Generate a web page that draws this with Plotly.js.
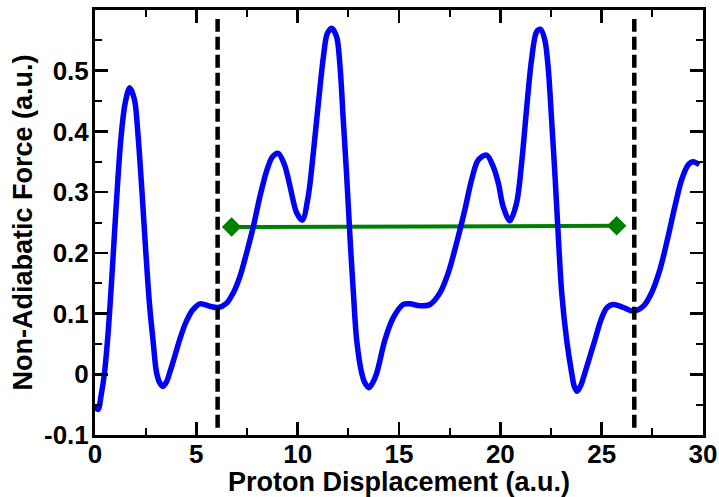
<!DOCTYPE html>
<html>
<head>
<meta charset="utf-8">
<script src="https://cdn.plot.ly/plotly-3.0.1.min.js"></script>
<style>
  html, body { margin: 0; padding: 0; background: #ffffff; }
  #chart { width: 719px; height: 497px; }
</style>
</head>
<body>
<div id="chart"></div>
<script>
// Blue curve: non-adiabatic force vs proton displacement
const forceX = [-0.05, 0.15, 0.30, 0.46, 0.64, 0.85, 1.05, 1.27, 1.48, 1.71, 1.95, 2.12, 2.32, 2.50, 2.69, 2.86, 3.03, 3.18, 3.35, 3.52, 3.69, 3.92, 4.18, 4.44, 4.80, 5.18, 5.67, 6.08, 6.49, 6.82, 7.15, 7.48, 7.81, 8.14, 8.47, 8.75, 9.04, 9.35, 9.62, 9.95, 10.23, 10.52, 10.77, 11.02, 11.27, 11.46, 11.68, 11.92, 12.09, 12.25, 12.42, 12.58, 12.75, 12.91, 13.16, 13.33, 13.52, 13.70, 13.90, 14.31, 14.70, 15.21, 15.54, 16.03, 16.53, 17.02, 17.43, 17.84, 18.25, 18.58, 18.91, 19.32, 19.65, 19.90, 20.14, 20.47, 20.80, 21.05, 21.29, 21.54, 21.79, 21.99, 22.20, 22.37, 22.53, 22.70, 22.86, 23.03, 23.27, 23.52, 23.65, 23.79, 23.96, 24.17, 24.67, 24.95, 25.24, 25.57, 26.07, 26.56, 27.05, 27.46, 27.87, 28.28, 28.61, 28.94, 29.27, 29.52, 29.82];
const forceY = [-0.053, -0.058, -0.035, 0.0, 0.065, 0.17, 0.28, 0.385, 0.445, 0.472, 0.452, 0.395, 0.30, 0.205, 0.115, 0.057, 0.004, -0.013, -0.020, -0.013, 0.003, 0.028, 0.057, 0.082, 0.105, 0.116, 0.112, 0.110, 0.117, 0.134, 0.161, 0.200, 0.243, 0.293, 0.335, 0.358, 0.364, 0.345, 0.31, 0.266, 0.254, 0.293, 0.364, 0.446, 0.523, 0.561, 0.570, 0.556, 0.507, 0.419, 0.326, 0.227, 0.134, 0.057, 0.002, -0.015, -0.022, -0.014, 0.002, 0.057, 0.092, 0.115, 0.116, 0.113, 0.115, 0.134, 0.167, 0.216, 0.271, 0.320, 0.353, 0.361, 0.342, 0.315, 0.276, 0.253, 0.282, 0.348, 0.435, 0.518, 0.564, 0.568, 0.550, 0.501, 0.419, 0.326, 0.227, 0.134, 0.057, 0.002, -0.020, -0.028, -0.019, 0.002, 0.057, 0.088, 0.109, 0.115, 0.110, 0.104, 0.112, 0.134, 0.172, 0.227, 0.276, 0.320, 0.345, 0.350, 0.345];

// Green average line (two end points)
const avgX = [6.74, 25.74];
const avgY = [0.2424, 0.2446];

// Dashed vertical boundaries
const boundary1X = [6.05, 6.05];
const boundary2X = [26.61, 26.61];
const boundaryY = [-0.088, 0.585];

// Axis ticks
const xTickVals = [0, 5, 10, 15, 20, 25, 30];
const xTickText = ["0", "5", "10", "15", "20", "25", "30"];
const yTickVals = [-0.1, 0, 0.1, 0.2, 0.3, 0.4, 0.5];
const yTickText = ["-0.1", "0", "0.1", "0.2", "0.3", "0.4", "0.5"];

const FONT = "Liberation Sans, Arial, Helvetica, sans-serif";

const traces = [
  {
    x: avgX, y: avgY, type: "scatter", mode: "lines+markers",
    line: { color: "#008000", width: 4 },
    marker: { symbol: "diamond", size: 15, color: "#008000" },
    hoverinfo: "skip", showlegend: false
  },
  {
    x: forceX, y: forceY, type: "scatter", mode: "lines",
    line: { color: "#0000ff", width: 5.5, shape: "spline", smoothing: 0.9 },
    hoverinfo: "skip", showlegend: false
  },
  {
    x: boundary1X, y: boundaryY, type: "scatter", mode: "lines",
    line: { color: "#000000", width: 4.5, dash: "13px,5px" },
    hoverinfo: "skip", showlegend: false
  },
  {
    x: boundary2X, y: boundaryY, type: "scatter", mode: "lines",
    line: { color: "#000000", width: 4.5, dash: "13px,5px" },
    hoverinfo: "skip", showlegend: false
  }
];

const layout = {
  width: 719, height: 497,
  margin: { l: 95, r: 16, t: 10, b: 62, pad: 0 },
  paper_bgcolor: "#ffffff", plot_bgcolor: "#ffffff",
  font: { family: FONT, color: "#000000" },
  showlegend: false,
  xaxis: {
    range: [0, 30],
    tickmode: "array", tickvals: xTickVals, ticktext: xTickText,
    ticks: "inside", ticklen: 13, tickwidth: 2.5, tickcolor: "#000000",
    minor: { tickmode: "linear", tick0: 0, dtick: 2.5, ticks: "inside", ticklen: 7, tickwidth: 2, tickcolor: "#000000" },
    showline: true, linecolor: "#000000", linewidth: 3, mirror: "allticks",
    showgrid: false, zeroline: false,
    ticklabelstandoff: -6,
    tickfont: { family: FONT, size: 26, color: "#000000", weight: "bold" },
    title: { text: "<b>Proton Displacement (a.u.)</b>", font: { family: FONT, size: 27, color: "#000000" }, standoff: 1 }
  },
  yaxis: {
    range: [-0.1, 0.6],
    tickmode: "array", tickvals: yTickVals, ticktext: yTickText,
    ticks: "inside", ticklen: 13, tickwidth: 2.5, tickcolor: "#000000",
    minor: { tickmode: "linear", tick0: -0.1, dtick: 0.05, ticks: "inside", ticklen: 7, tickwidth: 2, tickcolor: "#000000" },
    showline: true, linecolor: "#000000", linewidth: 3, mirror: "allticks",
    showgrid: false, zeroline: false,
    ticklabelstandoff: -2,
    tickfont: { family: FONT, size: 26, color: "#000000", weight: "bold" },
    title: { text: "<b>Non-Adiabatic Force (a.u.)</b>", font: { family: FONT, size: 27, color: "#000000" }, standoff: 4 }
  }
};

Plotly.newPlot("chart", traces, layout, { staticPlot: true, displayModeBar: false });
</script>
</body>
</html>
